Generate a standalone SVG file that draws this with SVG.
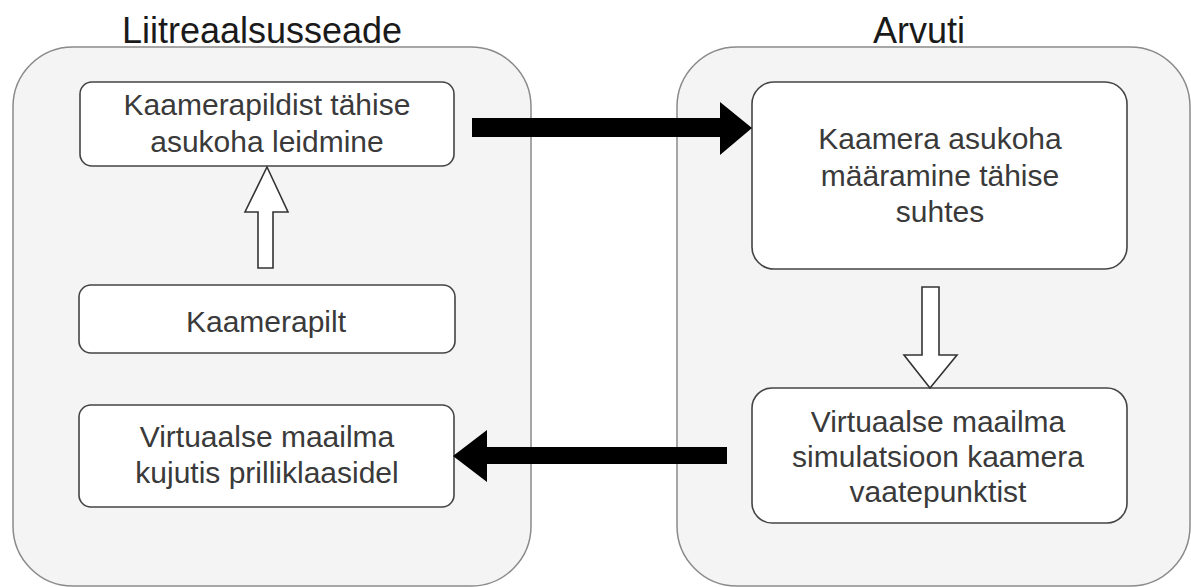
<svg xmlns="http://www.w3.org/2000/svg" width="1191" height="587" viewBox="0 0 1191 587">
<style>
.cont{fill:#f4f4f4;stroke:#8a8a8a;stroke-width:1.5}
.node{fill:#ffffff;stroke:#444444;stroke-width:1.6}
.title{font-family:"Liberation Sans",Arial,sans-serif;font-size:36px;fill:#1a1a1a;text-anchor:middle}
.lbl{font-family:"Liberation Sans",Arial,sans-serif;font-size:30px;fill:#3a3a3a;text-anchor:middle}
.hollow{fill:#ffffff;stroke:#333333;stroke-width:1.6;stroke-linejoin:miter}
.solid{fill:#000000;stroke:none}
</style>
<rect width="1191" height="587" fill="#ffffff"/>
<g id="container-left">
<rect class="cont" x="13" y="47" width="518" height="539" rx="60" ry="60"/>
<text class="title" x="262" y="43">Liitreaalsusseade</text>
</g>
<g id="container-right">
<rect class="cont" x="677" y="47" width="513" height="539" rx="60" ry="60"/>
<text class="title" x="919" y="43">Arvuti</text>
</g>
<g id="node-marker-detect">
<rect class="node" x="80" y="82" width="374" height="84" rx="12" ry="12"/>
<text class="lbl" x="267" y="115">Kaamerapildist tähise</text>
<text class="lbl" x="267" y="152">asukoha leidmine</text>
</g>
<g id="node-camera-image">
<rect class="node" x="79" y="285" width="376" height="68" rx="12" ry="12"/>
<text class="lbl" x="266" y="332">Kaamerapilt</text>
</g>
<g id="node-display">
<rect class="node" x="79" y="405" width="375" height="102" rx="12" ry="12"/>
<text class="lbl" x="267" y="447">Virtuaalse maailma</text>
<text class="lbl" x="267" y="483">kujutis prilliklaasidel</text>
</g>
<g id="node-camera-pose">
<rect class="node" x="752" y="82" width="375" height="187" rx="22" ry="22"/>
<text class="lbl" x="940" y="149">Kaamera asukoha</text>
<text class="lbl" x="940" y="186">määramine tähise</text>
<text class="lbl" x="940" y="222">suhtes</text>
</g>
<g id="node-simulation">
<rect class="node" x="752" y="388" width="375" height="135" rx="20" ry="20"/>
<text class="lbl" x="938" y="432">Virtuaalse maailma</text>
<text class="lbl" x="938" y="467">simulatsioon kaamera</text>
<text class="lbl" x="938" y="502">vaatepunktist</text>
</g>
<g id="connectors">
<polygon class="hollow" points="258,268 273,268 273,212 288,212 267,167 245,212 258,212"/>
<polygon class="hollow" points="922,287 939,287 939,355 957,355 930,388 904,355 922,355"/>
<polygon class="solid" points="472,118 720,118 720,102 752,128 720,155 720,137 472,137"/>
<polygon class="solid" points="727,447 487,447 487,430 453,456 487,482 487,464 727,464"/>
</g>
</svg>
